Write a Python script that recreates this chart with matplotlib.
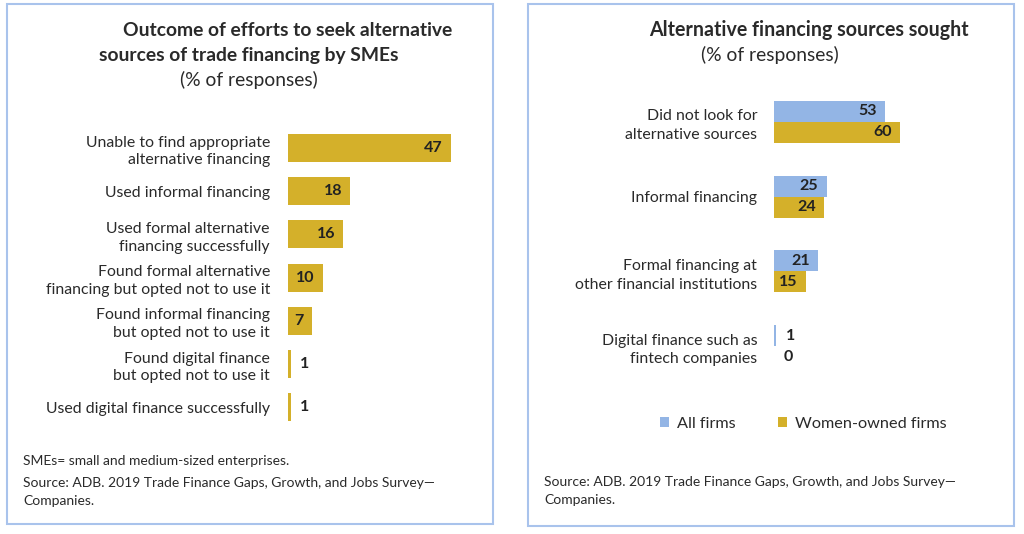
import matplotlib.pyplot as plt
from matplotlib.patches import Rectangle

plt.rcParams['font.family'] = ['Lato', 'DejaVu Sans']

# left panel data
outcome_labels = [
    "Unable to find appropriate\nalternative financing",
    "Used informal financing",
    "Used formal alternative\nfinancing successfully",
    "Found formal alternative\nfinancing but opted not to use it",
    "Found informal financing\nbut opted not to use it",
    "Found digital finance\nbut opted not to use it",
    "Used digital finance successfully",
]
outcome_values = [47, 18, 16, 10, 7, 1, 1]

# right panel data
source_labels = [
    "Did not look for\nalternative sources",
    "Informal financing",
    "Formal financing at\nother financial institutions",
    "Digital finance such as\nfintech companies",
]
all_firms = [53, 25, 21, 1]
women_owned = [60, 24, 15, 0]
series_names = ["All firms", "Women-owned firms"]

GOLD = "#D4B02A"
BLUE = "#93B5E5"
BORDER = "#A9C3EC"
DARK = "#222222"
TEXT = "#2a2a2a"

W, H = 1024, 534
fig = plt.figure(figsize=(W / 100, H / 100), dpi=100)


def px(x0, y0, x1, y1):
    # pixel box (top-left origin) -> figure rect
    return [x0 / W, 1 - y1 / H, (x1 - x0) / W, (y1 - y0) / H]


def ftext(x, y, s, **kw):
    fig.text(x / W, 1 - y / H, s, color=TEXT, **kw)


# panel borders
for (x0, y0, x1, y1) in [(7, 4, 493, 524), (528, 4, 1014, 526)]:
    fig.add_artist(Rectangle((x0 / W, 1 - y1 / H), (x1 - x0) / W, (y1 - y0) / H,
                             transform=fig.transFigure, fill=False,
                             edgecolor=BORDER, linewidth=1.5))

# ---- left chart ----
ftext(288, 30, "Outcome of efforts to seek alternative", ha="center", va="center",
      fontsize=13.9, fontweight="bold")
ftext(249, 55, "sources of trade financing by SMEs", ha="center", va="center",
      fontsize=13.9, fontweight="bold")
ftext(249, 80, "(% of responses)", ha="center", va="center", fontsize=13.9)

scale_l = 163 / 47
ax1 = fig.add_axes(px(288, 126.4, 480, 428.8))
ypos = range(len(outcome_values))
ax1.barh(ypos, outcome_values, height=0.65, color=GOLD, edgecolor="none")
ax1.set_xlim(0, 192 / scale_l)
ax1.set_ylim(len(outcome_values) - 0.5, -0.5)
ax1.set_yticks(list(ypos))
ax1.set_yticklabels(outcome_labels, fontsize=11.4, color=TEXT, linespacing=1.35)
ax1.tick_params(axis="y", length=0, pad=13)
ax1.set_xticks([])
for s in ax1.spines.values():
    s.set_visible(False)
for i, v in enumerate(outcome_values):
    if v >= 7:
        ax1.annotate(str(v), (v, i), xytext=(-6, 0), textcoords="offset points",
                     ha="right", va="center", fontsize=11.5, fontweight="bold", color=DARK)
    else:
        ax1.annotate(str(v), (v, i), xytext=(6, 0), textcoords="offset points",
                     ha="left", va="center", fontsize=11.5, fontweight="bold", color=DARK)

ftext(23, 461, "SMEs= small and medium-sized enterprises.", ha="left", va="center", fontsize=10)
ftext(23, 483, "Source: ADB. 2019 Trade Finance Gaps, Growth, and Jobs Survey\u2014",
      ha="left", va="center", fontsize=10)
ftext(23, 501, "Companies.", ha="left", va="center", fontsize=10)

# ---- right chart ----
ftext(809, 30, "Alternative financing sources sought", ha="center", va="center",
      fontsize=14.1, fontweight="bold")
ftext(770, 55, "(% of responses)", ha="center", va="center", fontsize=13.9)

scale_r = 126 / 60
ax2 = fig.add_axes(px(774, 84.6, 1000, 383.4))
gpos = list(range(len(source_labels)))
bh = 0.28
ax2.barh([g - bh / 2 for g in gpos], all_firms, height=bh, color=BLUE, edgecolor="none",
         label=series_names[0])
ax2.barh([g + bh / 2 for g in gpos], women_owned, height=bh, color=GOLD, edgecolor="none",
         label=series_names[1])
ax2.set_xlim(0, 226 / scale_r)
ax2.set_ylim(len(source_labels) - 0.5, -0.5)
ax2.set_yticks(gpos)
ax2.set_yticklabels(source_labels, fontsize=11.4, color=TEXT, linespacing=1.45)
ax2.tick_params(axis="y", length=0, pad=12)
ax2.set_xticks([])
for s in ax2.spines.values():
    s.set_visible(False)
for vals, off in [(all_firms, -bh / 2), (women_owned, bh / 2)]:
    for i, v in enumerate(vals):
        if v > 1:
            ax2.annotate(str(v), (v, i + off), xytext=(-6, 0), textcoords="offset points",
                         ha="right", va="center", fontsize=11.5, fontweight="bold", color=DARK)
        else:
            ax2.annotate(str(v), (v, i + off), xytext=(7, 0), textcoords="offset points",
                         ha="left", va="center", fontsize=11.5, fontweight="bold", color=DARK)

fig.legend(loc="center", bbox_to_anchor=(803 / W, 1 - 424 / H), ncol=2, frameon=False,
           fontsize=11.7, handlelength=0.55, handleheight=0.55, handletextpad=0.5,
           columnspacing=2.6, labelcolor=TEXT)

ftext(544, 482, "Source: ADB. 2019 Trade Finance Gaps, Growth, and Jobs Survey\u2014",
      ha="left", va="center", fontsize=10)
ftext(544, 500, "Companies.", ha="left", va="center", fontsize=10)

fig.savefig("out.png", dpi=100)
